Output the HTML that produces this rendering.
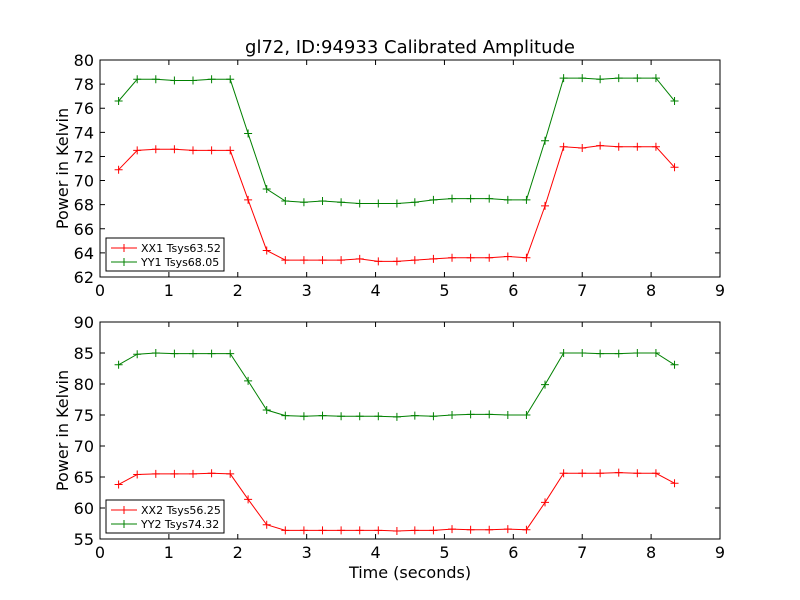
<!DOCTYPE html>
<html><head><meta charset="utf-8"><style>
body{margin:0;background:#fff;}
svg{display:block;font-family:"DejaVu Sans","Liberation Sans",sans-serif;}
</style></head><body>
<svg id="chart" width="800" height="600" viewBox="0 0 800 600">
<rect width="800" height="600" fill="#fff"/>
<text x="410" y="53" font-size="18" text-anchor="middle">gl72, ID:94933 Calibrated Amplitude</text>
</svg>
<script>
const times=[0.27,0.54,0.81,1.08,1.35,1.62,1.89,2.15,2.42,2.69,2.96,3.23,3.50,3.77,4.04,4.31,4.57,4.84,5.11,5.38,5.65,5.92,6.19,6.46,6.73,7.00,7.26,7.53,7.80,8.07,8.34];
const xx1=[70.9,72.5,72.6,72.6,72.5,72.5,72.5,68.4,64.2,63.4,63.4,63.4,63.4,63.5,63.3,63.3,63.4,63.5,63.6,63.6,63.6,63.7,63.6,67.9,72.8,72.7,72.9,72.8,72.8,72.8,71.1];
const yy1=[76.6,78.4,78.4,78.3,78.3,78.4,78.4,73.9,69.3,68.3,68.2,68.3,68.2,68.1,68.1,68.1,68.2,68.4,68.5,68.5,68.5,68.4,68.4,73.3,78.5,78.5,78.4,78.5,78.5,78.5,76.6];
const xx2=[63.8,65.4,65.5,65.5,65.5,65.6,65.5,61.4,57.3,56.4,56.4,56.4,56.4,56.4,56.4,56.3,56.4,56.4,56.6,56.5,56.5,56.6,56.5,60.9,65.6,65.6,65.6,65.7,65.6,65.6,64.0];
const yy2=[83.1,84.8,85.0,84.9,84.9,84.9,84.9,80.5,75.8,74.9,74.8,74.9,74.8,74.8,74.8,74.7,74.9,74.8,75.0,75.1,75.1,75.0,75.0,79.9,85.0,85.0,84.9,84.9,85.0,85.0,83.1];
const xTicks=[0,1,2,3,4,5,6,7,8,9];
const yTicksTop=[62,64,66,68,70,72,74,76,78,80];
const yTicksBot=[55,60,65,70,75,80,85,90];
const legendTop=["XX1 Tsys63.52","YY1 Tsys68.05"];
const legendBot=["XX2 Tsys56.25","YY2 Tsys74.32"];

const svg=document.getElementById('chart');
const NS='http://www.w3.org/2000/svg';
function mk(tag,attrs,parent){const e=document.createElementNS(NS,tag);for(const k in attrs)e.setAttribute(k,attrs[k]);(parent||svg).appendChild(e);return e;}
const L=100,R=720;
function xs(v){return L+(v-0)/(9-0)*(R-L);}

function panel(top,bot,ymin,ymax,yTicks,s1,s2,leg,name){
  const g=mk('g',{});
  
  
  const ys=v=>bot-(v-ymin)/(ymax-ymin)*(bot-top);
  [[s1,'#ff0000',leg[0]],[s2,'#008000',leg[1]]].forEach(([s,c,lab],si)=>{
    const pts=s.map((v,i)=>xs(times[i])+','+ys(v)).join(' ');
    const pl=mk('polyline',{points:pts,fill:'none',stroke:c,'stroke-width':1},g);
    
    
    s.forEach((v,i)=>{
      const x=xs(times[i]),y=ys(v);
      const m=mk('path',{d:`M${x-4},${y}H${x+4}M${x},${y-4}V${y+4}`,stroke:c,'stroke-width':1},g);
      
      
    });
  });
  const box=mk('rect',{x:L,y:top,width:R-L,height:bot-top,fill:'none',stroke:'#000','stroke-width':1},g);
  
  
  xTicks.forEach(t=>{
    const x=xs(t);
    mk('path',{d:`M${x},${bot}V${bot-5}M${x},${top}V${top+5}`,stroke:'#000'},g);
    const tx=mk('text',{x:x,y:bot+19,'font-size':16,'text-anchor':'middle'},g);
    tx.textContent=t;
    
    
  });
  yTicks.forEach(t=>{
    const y=ys(t);
    mk('path',{d:`M${L},${y}H${L+5}M${R},${y}H${R-5}`,stroke:'#000'},g);
    const tx=mk('text',{x:L-6,y:y+6,'font-size':16,'text-anchor':'end'},g);
    tx.textContent=t;
    
    
  });
  const yl=mk('text',{x:0,y:0,'font-size':16,'text-anchor':'middle',transform:`translate(68,${(top+bot)/2}) rotate(-90)`},g);
  yl.textContent='Power in Kelvin';
  
  
  const lg=mk('g',{},g);
  
  
  const ly=bot-39;
  mk('rect',{x:106,y:ly,width:118,height:33,fill:'#fff',stroke:'#000'},lg);
  ['#ff0000','#008000'].forEach((c,i)=>{
    const y=ly+10+i*14;
    mk('path',{d:`M111,${y}H137M120,${y}H128M124,${y-4}V${y+4}`,stroke:c},lg);
    const t=mk('text',{x:141,y:y+4,'font-size':11},lg);
    t.textContent=leg[i];
    
    
  });
}
panel(60,277,62,80,yTicksTop,xx1,yy1,legendTop,'top-panel');
panel(322,539,55,90,yTicksBot,xx2,yy2,legendBot,'bottom-panel');
const xl=mk('text',{x:410,y:578,'font-size':16,'text-anchor':'middle'});
xl.textContent='Time (seconds)';


</script>
</body></html>
